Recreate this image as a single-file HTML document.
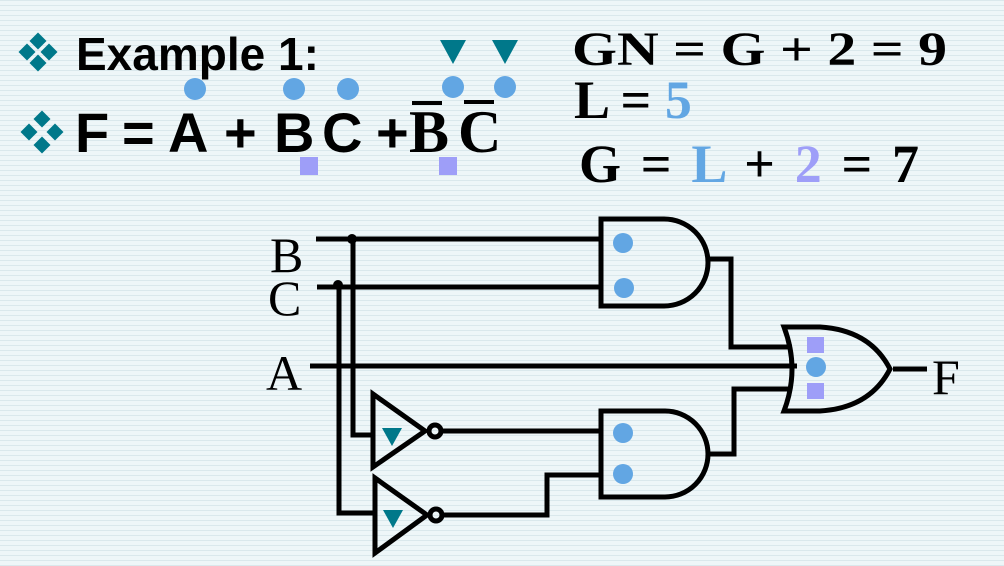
<!DOCTYPE html>
<html><head><meta charset="utf-8"><style>
html,body{margin:0;padding:0;}
body{width:1004px;height:566px;overflow:hidden;background:#eef6f8;
background-image:repeating-linear-gradient(0deg,rgba(180,205,215,0.35) 0px,rgba(180,205,215,0.35) 1px,transparent 1px,transparent 5px);}
svg{display:block}
</style></head><body>
<svg width="1004" height="566" viewBox="0 0 1004 566" xmlns="http://www.w3.org/2000/svg">
<defs>
<g id="dia"><rect x="-6" y="-6" width="12" height="12" transform="rotate(45)" fill="#00788a"/></g>
</defs>
<g transform="translate(38,52)">
<use href="#dia" x="0" y="-11"/><use href="#dia" x="-11" y="0"/><use href="#dia" x="11" y="0"/><use href="#dia" x="0" y="11"/>
</g>
<g transform="translate(42,132)" >
<use href="#dia" x="0" y="-13"/><use href="#dia" x="-13" y="0"/><use href="#dia" x="13" y="0"/><use href="#dia" x="0" y="13"/>
</g>
<g font-family="Liberation Sans, sans-serif" font-weight="bold" fill="#000">
<text x="76" y="70" font-size="46">Example 1:</text>
<text x="75" y="152" font-size="56">F</text>
<text x="122" y="152" font-size="56">=</text>
<text x="168" y="152" font-size="56">A</text>
<text x="224" y="152" font-size="56">+</text>
<text x="274" y="152" font-size="56">B</text>
<text x="322" y="152" font-size="56">C</text>
<text x="376" y="152" font-size="56">+</text>
</g>
<g font-family="Liberation Serif, serif" font-weight="bold" fill="#000">
<text x="409" y="152" font-size="60">B</text>
<text x="458" y="152" font-size="60">C</text>
</g>
<rect x="412" y="101" width="30" height="4" fill="#000"/>
<rect x="464" y="100" width="30" height="4" fill="#000"/>
<g fill="#62a6e3">
<circle cx="195" cy="89" r="11"/><circle cx="294" cy="89" r="11"/><circle cx="348" cy="89" r="11"/>
<circle cx="453" cy="87" r="11"/><circle cx="505" cy="87" r="11"/>
</g>
<g fill="#00788a">
<polygon points="440,40 466,40 453,64"/><polygon points="492,40 518,40 505,64"/>
</g>
<g fill="#9e9ef8">
<rect x="300" y="157" width="18" height="18"/><rect x="439" y="157" width="18" height="18"/>
</g>
<g font-family="Liberation Serif, serif" font-weight="bold" fill="#000">
<text x="572" y="65" font-size="48" textLength="375" lengthAdjust="spacingAndGlyphs">GN = G + 2 = 9</text>
<text x="574" y="118" font-size="54">L = <tspan fill="#62a6e3">5</tspan></text>
<text x="579" y="182" font-size="54" textLength="340" lengthAdjust="spacing">G = <tspan fill="#62a6e3">L</tspan> + <tspan fill="#9e9ef8">2</tspan> =  7</text>
</g>
<g font-family="Liberation Serif, serif" font-size="50" fill="#000">
<text x="270" y="272">B</text>
<text x="268" y="315">C</text>
<text x="266" y="390">A</text>
<text x="932" y="394">F</text>
</g>
<g stroke="#000" stroke-width="5" fill="none" stroke-linejoin="miter">
<line x1="316" y1="239" x2="600" y2="239"/>
<line x1="317" y1="287" x2="600" y2="287"/>
<line x1="310" y1="366" x2="797" y2="366"/>
<polyline points="353,239 353,435 373,435"/>
<polyline points="339,285 339,513 375,513"/>
<line x1="441" y1="431" x2="600" y2="431"/>
<polyline points="441,515 547,515 547,475 600,475"/>
<path d="M601,219 L664,219 A44,43.5 0 0 1 664,306 L601,306 Z"/>
<path d="M601,411 L665,411 A43,43 0 0 1 665,497 L601,497 Z"/>
<polyline points="706,259 731,259 731,347 792,347"/>
<polyline points="706,454 734,454 734,389 792,389"/>
<path d="M784,327 L820,327 Q870,330 890,369 Q870,408 820,411 L784,411 Q800,369 784,327 Z"/>
<line x1="893" y1="369" x2="927" y2="369"/>
<polygon points="373,394 373,467 425,431"/>
<circle cx="435" cy="431" r="6"/>
<polygon points="375,478 375,553 427,515"/>
<circle cx="436" cy="515" r="6"/>
</g>
<g fill="#000"><circle cx="352" cy="239" r="5"/><circle cx="338" cy="285" r="5"/></g>
<g fill="#62a6e3">
<circle cx="623" cy="243" r="10"/><circle cx="624" cy="288" r="10"/>
<circle cx="623" cy="433" r="10"/><circle cx="623" cy="474" r="10"/>
<circle cx="816" cy="367" r="10"/>
</g>
<g fill="#9e9ef8"><rect x="807" y="337" width="17" height="16"/><rect x="807" y="383" width="17" height="16"/></g>
<g fill="#00788a"><polygon points="382,428 402,428 392,446"/><polygon points="383,510 403,510 393,528"/></g>
</svg>
</body></html>
